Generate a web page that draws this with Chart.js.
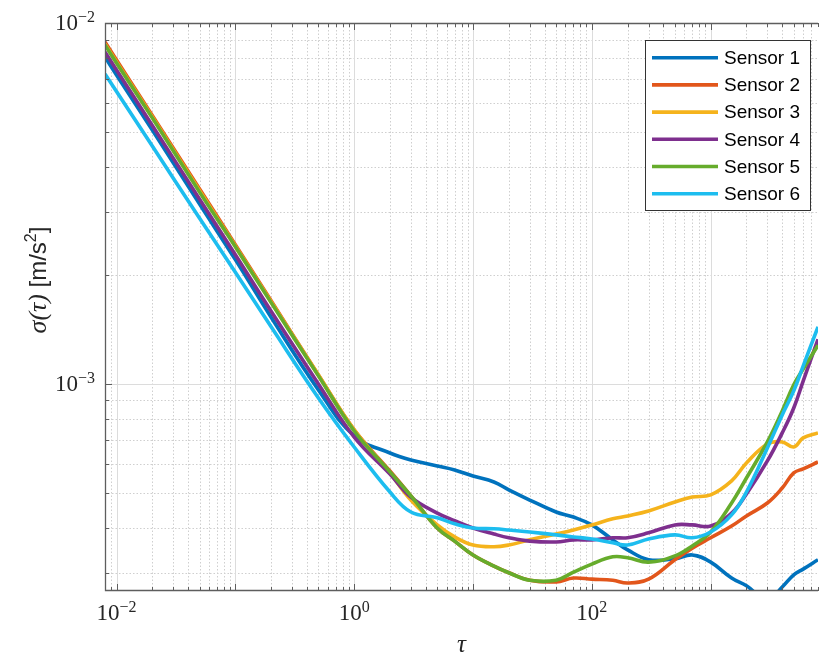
<!DOCTYPE html>
<html>
<head>
<meta charset="utf-8">
<title>Allan deviation</title>
<script src="https://cdn.jsdelivr.net/npm/chart.js@4.4.1/dist/chart.umd.min.js"></script>
<style>
  html, body { margin: 0; padding: 0; background: #ffffff; }
  #wrap { width: 819px; height: 657px; position: relative; }
</style>
</head>
<body>
<div id="wrap"><canvas id="allanChart"></canvas></div>
<script>
/* Allan deviation of six accelerometers, log-log */

const tau = [0.008, 0.01, 0.02, 0.05, 0.1, 0.2, 0.5, 1, 2, 3, 5, 7, 10, 15, 20, 30, 50, 70,
             100, 150, 200, 300, 500, 700, 1000, 1500, 2000, 3000, 4000, 5000, 6000, 8000];

const sensor1 = [8.05e-3, 7.18e-3, 5.05e-3, 3.15e-3, 2.21e-3, 1.53e-3, 9.63e-4, 7.18e-4, 6.44e-4, 6.16e-4,
                 5.93e-4, 5.78e-4, 5.56e-4, 5.35e-4, 5.09e-4, 4.77e-4, 4.42e-4, 4.28e-4, 4.07e-4, 3.70e-4,
                 3.47e-4, 3.26e-4, 3.28e-4, 3.36e-4, 3.21e-4, 2.90e-4, 2.76e-4, 2.52e-4, 2.74e-4, 2.96e-4,
                 3.07e-4, 3.26e-4];
const sensor2 = [8.86e-3, 7.90e-3, 5.54e-3, 3.47e-3, 2.43e-3, 1.70e-3, 1.059e-3, 7.46e-4, 5.74e-4, 4.90e-4,
                 3.99e-4, 3.67e-4, 3.36e-4, 3.13e-4, 3.00e-4, 2.86e-4, 2.83e-4, 2.90e-4, 2.88e-4, 2.86e-4,
                 2.81e-4, 2.88e-4, 3.26e-4, 3.51e-4, 3.75e-4, 4.04e-4, 4.31e-4, 4.68e-4, 5.15e-4, 5.67e-4,
                 5.82e-4, 6.08e-4];
const sensor3 = [8.75e-3, 7.80e-3, 5.49e-3, 3.43e-3, 2.41e-3, 1.69e-3, 1.059e-3, 7.46e-4, 5.67e-4, 4.77e-4,
                 4.07e-4, 3.77e-4, 3.58e-4, 3.54e-4, 3.58e-4, 3.70e-4, 3.84e-4, 3.94e-4, 4.07e-4, 4.23e-4,
                 4.31e-4, 4.45e-4, 4.71e-4, 4.86e-4, 4.93e-4, 5.39e-4, 6.04e-4, 6.82e-4, 6.91e-4, 6.69e-4,
                 7.09e-4, 7.32e-4];
const sensor4 = [8.31e-3, 7.41e-3, 5.20e-3, 3.25e-3, 2.28e-3, 1.59e-3, 1.000e-3, 7.13e-4, 5.63e-4, 4.86e-4,
                 4.39e-4, 4.18e-4, 3.99e-4, 3.84e-4, 3.75e-4, 3.67e-4, 3.65e-4, 3.70e-4, 3.70e-4, 3.75e-4,
                 3.75e-4, 3.87e-4, 4.07e-4, 4.07e-4, 4.04e-4, 4.39e-4, 4.96e-4, 6.12e-4, 7.32e-4, 8.58e-4,
                 1.019e-3, 1.33e-3];
const sensor5 = [8.69e-3, 7.75e-3, 5.46e-3, 3.40e-3, 2.40e-3, 1.68e-3, 1.053e-3, 7.41e-4, 5.71e-4, 4.90e-4,
                 3.99e-4, 3.67e-4, 3.36e-4, 3.13e-4, 3.00e-4, 2.86e-4, 2.86e-4, 3.01e-4, 3.17e-4, 3.32e-4,
                 3.30e-4, 3.21e-4, 3.34e-4, 3.56e-4, 3.89e-4, 4.68e-4, 5.49e-4, 6.91e-4, 8.42e-4, 9.94e-4,
                 1.100e-3, 1.28e-3];
const sensor6 = [7.22e-3, 6.46e-3, 4.56e-3, 2.88e-3, 2.04e-3, 1.44e-3, 9.15e-4, 6.69e-4, 5.02e-4, 4.42e-4,
                 4.26e-4, 4.10e-4, 3.99e-4, 3.97e-4, 3.94e-4, 3.89e-4, 3.82e-4, 3.77e-4, 3.72e-4, 3.63e-4,
                 3.58e-4, 3.72e-4, 3.82e-4, 3.75e-4, 3.89e-4, 4.34e-4, 5.02e-4, 6.65e-4, 8.21e-4, 9.57e-4,
                 1.121e-3, 1.44e-3];

const sensorNames = ['Sensor 1', 'Sensor 2', 'Sensor 3', 'Sensor 4', 'Sensor 5', 'Sensor 6'];
const sensorColors = ['#0072BD', '#E2561B', '#F5B31C', '#7E2F8E', '#66AC2C', '#1DBDEF'];

// decade exponents that get a 10^n label
const xTickExps = [-2, 0, 2];
const yTickExps = [-3, -2];

const X_MIN = 0.008, X_MAX = 8000;
const Y_MIN = 2.67e-4, Y_MAX = 1e-2;

const serif = '"Liberation Serif", "DejaVu Serif", serif';
const sans = '"Liberation Sans", Arial, sans-serif';

function logSteps(min, max) {
    const out = [];
    const e0 = Math.floor(Math.log10(min)), e1 = Math.ceil(Math.log10(max));
    for (let e = e0; e <= e1; e++) {
        for (let m = 1; m < 10; m++) {
            const v = m * Math.pow(10, e);
            if (v >= min * 0.9999 && v <= max * 1.0001) out.push({ v, major: m === 1 });
        }
    }
    return out;
}

// "10" with a raised exponent
function drawPow(ctx, exp, x, y, align) {
    const base = '10';
    const sup = exp < 0 ? '\u2212' + (-exp) : String(exp);
    ctx.font = '23px ' + serif;
    const bw = ctx.measureText(base).width;
    ctx.font = '16px ' + serif;
    const sw = ctx.measureText(sup).width;
    const left = align === 'center' ? x - (bw + sw) / 2 : x - (bw + sw);
    ctx.textAlign = 'left';
    ctx.textBaseline = 'alphabetic';
    ctx.font = '23px ' + serif;
    ctx.fillText(base, left, y);
    ctx.font = '16px ' + serif;
    ctx.fillText(sup, left + bw, y - 8);
}

const matlabAxes = {
    id: 'matlabAxes',
    beforeDatasetsDraw(chart) {
        const { ctx, chartArea: a, scales: { x, y } } = chart;
        ctx.save();
        ctx.beginPath();
        ctx.rect(a.left, a.top, a.right - a.left, a.bottom - a.top);
        ctx.clip();
        ctx.lineWidth = 1;

        const xs = logSteps(X_MIN, X_MAX);
        const ys = logSteps(Y_MIN, Y_MAX);

        // minor grid, dotted
        ctx.strokeStyle = '#cfcfcf';
        ctx.setLineDash([1.5, 2]);
        ctx.beginPath();
        xs.filter(t => !t.major).forEach(t => {
            const px = Math.round(x.getPixelForValue(t.v)) + 0.5;
            ctx.moveTo(px, a.top); ctx.lineTo(px, a.bottom);
        });
        ys.filter(t => !t.major).forEach(t => {
            const py = Math.round(y.getPixelForValue(t.v)) + 0.5;
            ctx.moveTo(a.left, py); ctx.lineTo(a.right, py);
        });
        ctx.stroke();

        // major grid at decades, solid
        ctx.setLineDash([]);
        ctx.strokeStyle = '#dcdcdc';
        ctx.beginPath();
        xs.filter(t => t.major).forEach(t => {
            const px = Math.round(x.getPixelForValue(t.v)) + 0.5;
            ctx.moveTo(px, a.top); ctx.lineTo(px, a.bottom);
        });
        ys.filter(t => t.major).forEach(t => {
            const py = Math.round(y.getPixelForValue(t.v)) + 0.5;
            ctx.moveTo(a.left, py); ctx.lineTo(a.right, py);
        });
        ctx.stroke();
        ctx.restore();
    },
    afterDatasetsDraw(chart) {
        const { ctx, chartArea: a, scales: { x, y } } = chart;
        ctx.save();

        // axis box (left, top, bottom)
        ctx.strokeStyle = '#5e5e5e';
        ctx.lineWidth = 1.3;
        ctx.beginPath();
        ctx.moveTo(a.right, a.top + 0.5);
        ctx.lineTo(a.left + 0.5, a.top + 0.5);
        ctx.lineTo(a.left + 0.5, a.bottom - 0.5);
        ctx.lineTo(a.right, a.bottom - 0.5);
        ctx.stroke();

        // inward tick marks
        ctx.lineWidth = 1;
        ctx.beginPath();
        logSteps(X_MIN, X_MAX).forEach(t => {
            const px = Math.round(x.getPixelForValue(t.v)) + 0.5;
            const len = t.major ? 7 : 4;
            ctx.moveTo(px, a.bottom); ctx.lineTo(px, a.bottom - len);
            ctx.moveTo(px, a.top); ctx.lineTo(px, a.top + len);
        });
        logSteps(Y_MIN, Y_MAX).forEach(t => {
            const py = Math.round(y.getPixelForValue(t.v)) + 0.5;
            const len = t.major ? 7 : 4;
            ctx.moveTo(a.left, py); ctx.lineTo(a.left + len, py);
        });
        ctx.stroke();

        // tick labels
        ctx.fillStyle = '#262626';
        xTickExps.forEach(e => drawPow(ctx, e, x.getPixelForValue(Math.pow(10, e)), a.bottom + 29, 'center'));
        yTickExps.forEach(e => drawPow(ctx, e, a.left - 10, y.getPixelForValue(Math.pow(10, e)) + 7, 'right'));

        // axis titles
        ctx.font = 'italic 25px ' + serif;
        ctx.textAlign = 'center';
        ctx.textBaseline = 'alphabetic';
        ctx.fillText('\u03C4', (a.left + a.right) / 2, 652);

        ctx.save();
        ctx.translate(46, 280);
        ctx.rotate(-Math.PI / 2);
        const p1 = '\u03C3(\u03C4) ', p2 = '[m/s', p3 = '2', p4 = ']';
        ctx.font = 'italic 26px ' + serif; const w1 = ctx.measureText(p1).width;
        ctx.font = '24px ' + sans; const w2 = ctx.measureText(p2).width; const w4 = ctx.measureText(p4).width;
        ctx.font = '16px ' + sans; const w3 = ctx.measureText(p3).width;
        let cx = -(w1 + w2 + w3 + w4) / 2;
        ctx.textAlign = 'left';
        ctx.font = 'italic 26px ' + serif; ctx.fillText(p1, cx, 0); cx += w1;
        ctx.font = '24px ' + sans; ctx.fillText(p2, cx, 0); cx += w2;
        ctx.font = '16px ' + sans; ctx.fillText(p3, cx, -10); cx += w3;
        ctx.font = '24px ' + sans; ctx.fillText(p4, cx, 0);
        ctx.restore();

        // legend
        const lx = 645.5, ly = 40.5, lw = 165, lh = 170;
        ctx.fillStyle = '#ffffff';
        ctx.fillRect(lx, ly, lw, lh);
        ctx.strokeStyle = '#333333';
        ctx.lineWidth = 1;
        ctx.strokeRect(lx, ly, lw, lh);
        ctx.font = '19px ' + sans;
        ctx.textBaseline = 'middle';
        ctx.textAlign = 'left';
        sensorNames.forEach((name, i) => {
            const ry = 57.7 + i * 27.2;
            ctx.strokeStyle = sensorColors[i];
            ctx.lineWidth = 3.6;
            ctx.beginPath();
            ctx.moveTo(652, ry); ctx.lineTo(718, ry);
            ctx.stroke();
            ctx.fillStyle = '#000000';
            ctx.fillText(name, 724, ry + 1);
        });
        ctx.restore();
    }
};

const seriesValues = [sensor1, sensor2, sensor3, sensor4, sensor5, sensor6];

new Chart(document.getElementById('allanChart'), {
    type: 'line',
    data: {
        datasets: seriesValues.map((vals, i) => ({
            label: sensorNames[i],
            data: tau.map((t, k) => ({ x: t, y: vals[k] })),
            borderColor: sensorColors[i],
            borderWidth: 3.6,
            pointRadius: 0,
            fill: false,
            tension: 0.4,
            clip: 0,
            order: sensorNames.length - i   // later sensors on top
        }))
    },
    options: {
        responsive: true,
        maintainAspectRatio: false,
        animation: false,
        events: [],
        layout: { padding: { left: 105, right: 1, top: 23, bottom: 66 } },
        plugins: {
            legend: { display: false },
            tooltip: { enabled: false }
        },
        scales: {
            x: { type: 'logarithmic', min: X_MIN, max: X_MAX, display: false },
            y: { type: 'logarithmic', min: Y_MIN, max: Y_MAX, display: false }
        }
    },
    plugins: [matlabAxes]
});
</script>
</body>
</html>
